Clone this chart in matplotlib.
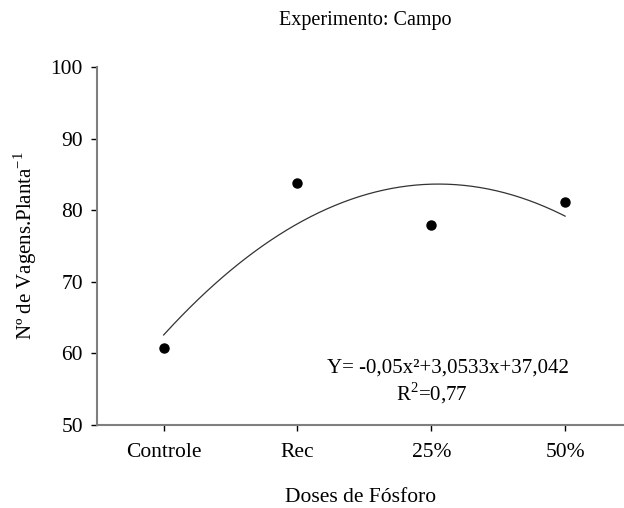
import numpy as np
import matplotlib
matplotlib.use("Agg")
import matplotlib.pyplot as plt

plt.rcParams['font.family'] = ['Liberation Serif', 'DejaVu Serif']
plt.rcParams['mathtext.fontset'] = 'custom'
plt.rcParams['mathtext.rm'] = 'Liberation Serif'

categories = ["Controle", "Rec", "25%", "50%"]
x_pos = [10, 20, 30, 40]
vagens = [60.8, 83.8, 77.9, 81.1]
coef_a, coef_b, coef_c = -0.05, 3.0533, 37.042
y_ticks = [50, 60, 70, 80, 90, 100]

fig = plt.figure(figsize=(6.24, 5.08), dpi=100)
ax = fig.add_axes([0.155, 0.1634, 0.845, 0.7046])

xx = np.linspace(x_pos[0], x_pos[-1], 200)
yy = coef_a * xx**2 + coef_b * xx + coef_c
ax.plot(xx, yy, color='#333333', lw=0.9)
ax.plot(x_pos, vagens, 'o', color='black', ms=6.5)

ax.set_xlim(5, 44.4)
ax.set_ylim(50, 100)
ax.set_yticks(y_ticks)
ax.set_xticks(x_pos)
ax.set_xticklabels(categories)
ax.tick_params(axis='both', direction='out', length=4, width=1, colors='black', labelsize=15.5, pad=9)
ax.tick_params(axis='y', pad=6)
for s in ['top', 'right']:
    ax.spines[s].set_visible(False)
for s in ['left', 'bottom']:
    ax.spines[s].set_color('#7f7f7f')
    ax.spines[s].set_linewidth(1.5)

ax.set_xlabel("Doses de Fósforo", fontsize=15.5, labelpad=19)
ax.set_ylabel("Nº de Vagens.Planta$^{\\mathregular{-1}}$", fontsize=15, labelpad=8)
fig.text(0.585, 0.96, "Experimento: Campo", ha='center', va='center', fontsize=14.5)

ax.text(0.666, 0.159, "Y= -0,05x²+3,0533x+37,042", transform=ax.transAxes, ha='center', va='center', fontsize=15)
ax.text(0.636, 0.089, "R$^{\\mathregular{2}}$=0,77", transform=ax.transAxes, ha='center', va='center', fontsize=15)

fig.savefig("out.png", dpi=100)
